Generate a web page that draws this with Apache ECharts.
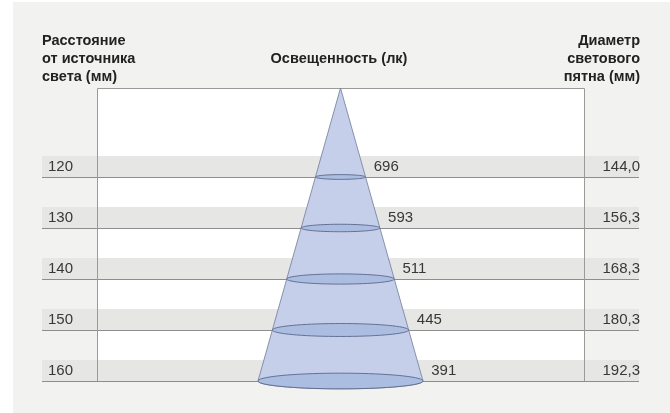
<!DOCTYPE html>
<html><head><meta charset="utf-8">
<script src="https://cdn.jsdelivr.net/npm/echarts@6/dist/echarts.min.js"></script>
<style>html,body{margin:0;padding:0;background:#fff}#c{width:670px;height:413px}</style>
</head><body><div id="c"></div>
<script>
const distances = [120, 130, 140, 150, 160];
const illuminance = [696, 593, 511, 445, 391];
const diameters = [144.0, 156.3, 168.3, 180.3, 192.3];
const leftTitle = 'Расстояние\nот источника\nсвета (мм)';
const centerTitle = 'Освещенность (лк)';
const rightTitle = 'Диаметр\nсветового\nпятна (мм)';

const Y_MIN = 102.55, Y_MAX = 160;
const SLOPE = 0.2816;      // cone half-width per px of depth
const BAND_L = 42, BAND_R = 639, BAND_H = 21;
const FONT = '"Liberation Sans", Arial, sans-serif';
const HFONT = 'bold 14.5px ' + FONT;

const rows = distances.map((d, i) => [0, d, illuminance[i], diameters[i]]);

function ellipsePts(cx, cy, rx, ry, a0, a1, n) {
  const pts = [];
  for (let k = 0; k <= n; k++) {
    const t = a0 + (a1 - a0) * k / n;
    pts.push([cx + rx * Math.cos(t), cy + ry * Math.sin(t)]);
  }
  return pts;
}

const chart = echarts.init(document.getElementById('c'), null, {renderer: 'canvas'});
chart.setOption({
  backgroundColor: '#ffffff',
  animation: false,
  grid: {left: 97, right: 86, top: 88, bottom: 32, show: true, backgroundColor: '#ffffff', borderWidth: 0},
  xAxis: {type: 'value', min: -1, max: 1, show: false},
  yAxis: {type: 'value', inverse: true, min: Y_MIN, max: Y_MAX, show: false},
  graphic: [
    {type: 'rect', z: -10, shape: {x: 13, y: 2, width: 657, height: 411}, style: {fill: '#f2f2f0'}},
    {type: 'text', x: 42, y: 58.5, style: {text: leftTitle, font: HFONT, fill: '#222', lineHeight: 18, align: 'left', verticalAlign: 'middle'}},
    {type: 'text', x: 339, y: 58.5, style: {text: centerTitle, font: HFONT, fill: '#222', align: 'center', verticalAlign: 'middle'}},
    {type: 'text', x: 640, y: 58.5, style: {text: rightTitle, font: HFONT, fill: '#222', lineHeight: 18, align: 'right', verticalAlign: 'middle'}}
  ],
  series: [
    {
      type: 'custom', z: 1, data: rows, clip: false, silent: true,
      renderItem: function (params, api) {
        const p = api.coord([0, api.value(1)]);
        const y = Math.round(p[1]);
        return {type: 'group', children: [
          {type: 'rect', shape: {x: BAND_L, y: y - BAND_H, width: BAND_R - BAND_L, height: BAND_H}, style: {fill: '#e6e6e4'}},
          {type: 'line', shape: {x1: BAND_L, y1: y + 0.5, x2: BAND_R, y2: y + 0.5}, style: {stroke: '#8e8e8e', lineWidth: 1}}
        ]};
      }
    },
    {
      type: 'custom', z: 2, data: [[0, Y_MIN]], clip: false, silent: true,
      renderItem: function (params, api) {
        const tl = api.coord([-1, Y_MIN]), br = api.coord([1, Y_MAX]);
        const x0 = Math.round(tl[0]) + 0.5, x1 = Math.round(br[0]) + 0.5, y0 = Math.round(tl[1]) + 0.5, y1 = Math.round(br[1]);
        const st = {stroke: '#9a9a9a', lineWidth: 1};
        return {type: 'group', children: [
          {type: 'line', shape: {x1: x0, y1: y0, x2: x1, y2: y0}, style: st},
          {type: 'line', shape: {x1: x0, y1: y0, x2: x0, y2: y1}, style: st},
          {type: 'line', shape: {x1: x1, y1: y0, x2: x1, y2: y1}, style: st}
        ]};
      }
    },
    {
      type: 'custom', z: 3, data: [[0, distances[distances.length - 1]]], clip: false, silent: true,
      renderItem: function (params, api) {
        const apex = api.coord([0, Y_MIN]);
        const b = api.coord([0, api.value(1)]);
        const rx = SLOPE * (b[1] - apex[1]);
        const ry = 0.095 * rx;
        const pts = [apex].concat(ellipsePts(b[0], b[1], rx, ry, Math.PI, 0, 60));
        return {type: 'polygon', shape: {points: pts}, style: {fill: '#c6cfe9', stroke: '#6f7c98', lineWidth: 0.8}};
      }
    },
    {
      type: 'custom', z: 4, data: rows, clip: false, silent: true,
      renderItem: function (params, api) {
        const apex = api.coord([0, Y_MIN]);
        const p = api.coord([0, api.value(1)]);
        const rx = SLOPE * (p[1] - apex[1]);
        const ry = 0.095 * rx;
        return {type: 'polygon', shape: {points: ellipsePts(p[0], p[1], rx, ry, 0, Math.PI * 2, 72)},
          style: {fill: '#abbde1', stroke: '#5a6889', lineWidth: 0.9}};
      }
    },
    {
      type: 'custom', z: 5, data: rows, clip: false, silent: true,
      renderItem: function (params, api) {
        const apex = api.coord([0, Y_MIN]);
        const p = api.coord([0, api.value(1)]);
        const yc = p[1] - 10;
        const rxc = SLOPE * (yc - apex[1]);
        const f = '15px ' + FONT;
        return {type: 'group', children: [
          {type: 'text', style: {x: 48, y: yc, text: String(api.value(1)), font: f, fill: '#383838', verticalAlign: 'middle', align: 'left'}},
          {type: 'text', style: {x: p[0] + rxc + 11, y: yc, text: String(api.value(2)), font: f, fill: '#383838', verticalAlign: 'middle', align: 'left'}},
          {type: 'text', style: {x: 640, y: yc, text: api.value(3).toFixed(1).replace('.', ','), font: f, fill: '#383838', verticalAlign: 'middle', align: 'right'}}
        ]};
      }
    }
  ]
});
</script></body></html>
